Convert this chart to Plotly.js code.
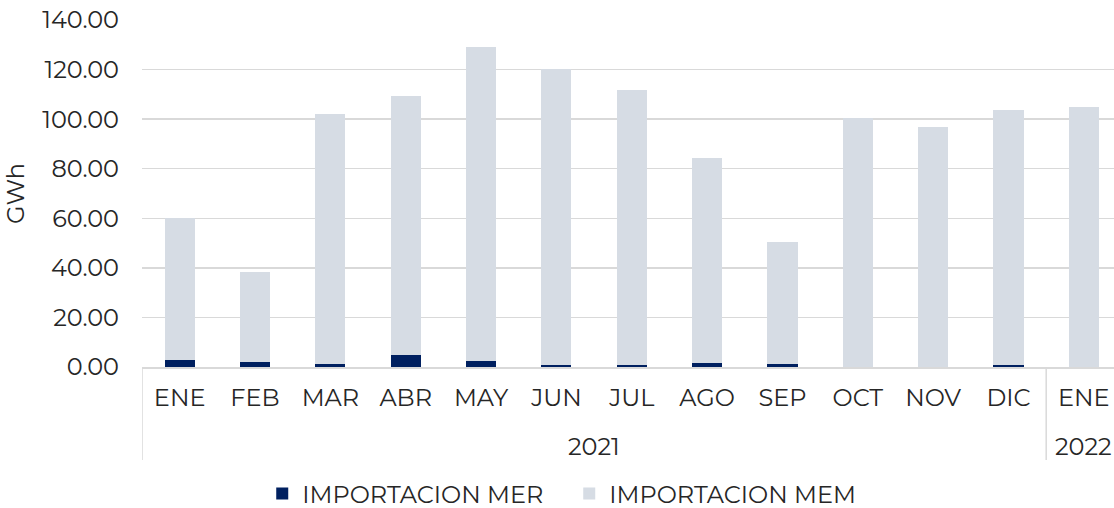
<!DOCTYPE html>
<html><head><meta charset="utf-8">
<script src="https://cdn.plot.ly/plotly-3.0.1.min.js"></script>
<style>html,body{margin:0;padding:0;background:#fff}#c{width:1114px;height:508px}</style>
</head><body><div id="c"></div>
<script>
const years = ['2021','2021','2021','2021','2021','2021','2021','2021','2021','2021','2021','2021','2022'];
const months = ['ENE','FEB','MAR','ABR','MAY','JUN','JUL','AGO','SEP','OCT','NOV','DIC','ENE'];
const importacionMER = [2.7,2.0,1.1,4.7,2.3,0.9,0.7,1.6,1.2,0.0,0.2,0.8,0.0];
const importacionMEM = [57.5,36.3,101.0,104.6,126.8,119.3,111.0,82.7,49.2,100.4,96.6,102.9,104.9];
const yTicks = [0,20,40,60,80,100,120,140];

const fs = 24;
const col = '#262626';
const idx = months.map((m,i)=>i);

// year groups derived from the years array
const groups = [];
years.forEach((y,i)=>{
  if(!groups.length || groups[groups.length-1].year!==y) groups.push({year:y, start:i, end:i});
  else groups[groups.length-1].end = i;
});
const annotations = groups.map(g=>({
  xref:'x', yref:'paper', x:(g.start+g.end)/2, y:-0.228, yanchor:'middle', xanchor:'center',
  text:g.year, showarrow:false, font:{size:fs,color:col}
}));
const shapes = groups.map(g=>({
  type:'line', xref:'x', yref:'paper', x0:g.start-0.5, x1:g.start-0.5, y0:0, y1:-0.268,
  line:{color:'#d9d9d9', width:1.5}
}));

const traces = [
  {type:'bar', name:'IMPORTACION MER', x:idx, y:importacionMER, marker:{color:'#002060'}},
  {type:'bar', name:'IMPORTACION MEM', x:idx, y:importacionMEM, marker:{color:'#d6dce4'}}
];
const layout = {
  width:1114, height:508,
  margin:{l:142, r:0, t:20, b:141, pad:0, autoexpand:false},
  barmode:'stack', bargap:0.6,
  font:{family:'Montserrat, "DejaVu Sans", sans-serif', size:fs, color:col},
  paper_bgcolor:'#fff', plot_bgcolor:'#fff',
  showlegend:true,
  legend:{orientation:'h', x:0.1237, xanchor:'left', y:-0.366, yanchor:'middle', font:{size:fs,color:col},
          traceorder:'normal', itemwidth:30, entrywidth:262},
  annotations: annotations,
  shapes: shapes,
  xaxis:{type:'linear', range:[-0.5,12.4], automargin:false, tickvals:idx, ticktext:months,
         showline:true, linecolor:'#d9d9d9', linewidth:1.5, showgrid:false, zeroline:false,
         ticks:'', ticklabelstandoff:9, tickfont:{size:fs,color:col}, fixedrange:true},
  yaxis:{range:[0,140], automargin:false, tickvals:yTicks, ticktext:yTicks.map(v=>v.toFixed(2)), showgrid:true, gridcolor:'#d9d9d9', gridwidth:1.5,
         zeroline:false, ticks:'', ticklabelstandoff:22, title:{text:'GWh', font:{size:fs,color:col}, standoff:10}, tickfont:{size:fs,color:col}}
};
Plotly.newPlot('c', traces, layout, {displayModeBar:false, staticPlot:true});
</script></body></html>
